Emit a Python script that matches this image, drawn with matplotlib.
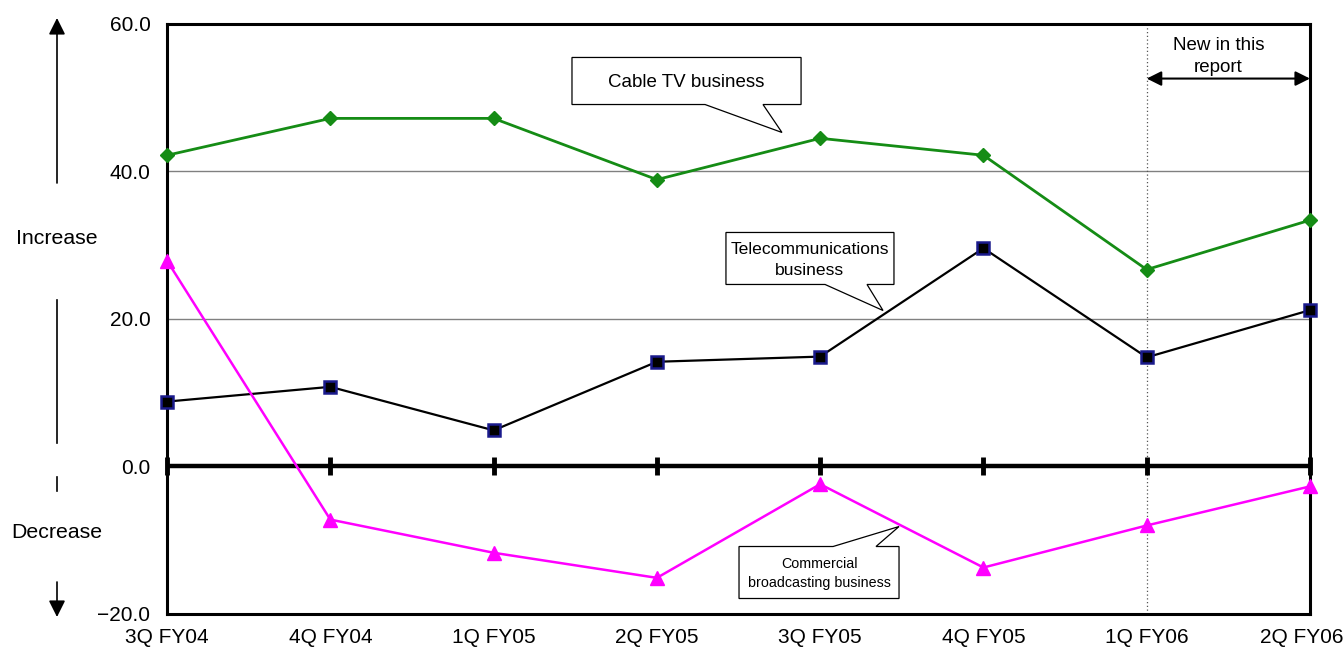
import matplotlib.pyplot as plt
from matplotlib.patches import Polygon
from matplotlib.transforms import ScaledTranslation

plt.rcParams['font.family'] = ['Liberation Sans', 'DejaVu Sans']

# Quarters and year-on-year change for each business
quarters = ['3Q FY04', '4Q FY04', '1Q FY05', '2Q FY05', '3Q FY05', '4Q FY05', '1Q FY06', '2Q FY06']
cable_tv = [42.2, 47.2, 47.2, 38.9, 44.5, 42.2, 26.7, 33.4]
telecom = [8.8, 10.8, 4.9, 14.2, 14.9, 29.6, 14.8, 21.2]
commercial = [27.9, -7.2, -11.7, -15.1, -2.4, -13.7, -8.0, -2.7]
y_ticks = [-20, 0, 20, 40, 60]

x = list(range(len(quarters)))

fig = plt.figure(figsize=(13.44, 6.5), dpi=100)
ax = fig.add_axes([0.1243, 0.0554, 0.8504, 0.9077])

ax.set_xlim(0, len(quarters) - 1)
ax.set_ylim(-20, 60)

# grid lines and heavy zero line
for g in (20, 40):
    ax.axhline(g, color='#808080', lw=1, zorder=1)
ax.axhline(0, color='black', lw=3.2, zorder=2)
ax.plot(x, [0] * len(x), linestyle='none', marker='|', markersize=13,
        mew=3.5, color='black', zorder=2, clip_on=False)

# dotted divider for the newest quarters
ax.axvline(6, color='#555555', lw=0.9, ls=(0, (1, 2)), zorder=1)

ax.plot(x, cable_tv, color='#158C15', lw=2, marker='D', markersize=7,
        zorder=4, clip_on=False)
ax.plot(x, telecom, color='black', lw=1.6, marker='s', markersize=9,
        markerfacecolor='black', markeredgecolor='#1a1a8c', mew=1.8,
        zorder=4, clip_on=False)
ax.plot(x, commercial, color='#FF00FF', lw=1.8, marker='^', markersize=10,
        zorder=4, clip_on=False)

for s in ax.spines.values():
    s.set_linewidth(2.2)
    s.set_color('black')

ax.set_xticks(x)
ax.set_xticklabels(quarters, fontsize=15)
ax.set_yticks(y_ticks)
ax.set_yticklabels(['\u221220.0' if v < 0 else f'{v:.1f}' for v in y_ticks],
                   fontsize=15)
ax.tick_params(axis='y', length=0, pad=12)
ax.tick_params(axis='x', length=0, pad=10)

# keep the last quarter label inside the figure
last = ax.get_xticklabels()[-1]
last.set_transform(last.get_transform() + ScaledTranslation(-8 / 100, 0, fig.dpi_scale_trans))


def callout(pts, text, tx, ty, size):
    ax.add_patch(Polygon(pts, closed=True, facecolor='white', edgecolor='black',
                         lw=0.9, zorder=5))
    ax.text(tx, ty, text, ha='center', va='center', fontsize=size,
            linespacing=1.45, zorder=6)


callout([(2.48, 55.46), (3.883, 55.46), (3.883, 49.08), (3.65, 49.08),
         (3.766, 45.29), (3.295, 49.08), (2.48, 49.08)],
        'Cable TV business', 3.18, 52.0, 13.5)
callout([(3.423, 31.73), (4.452, 31.73), (4.452, 24.68), (4.287, 24.68),
         (4.385, 21.15), (4.03, 24.68), (3.423, 24.68)],
        'Telecommunications\nbusiness', 3.937, 28.0, 12.6)
callout([(3.503, -10.85), (4.079, -10.85), (4.483, -8.14), (4.342, -10.85),
         (4.483, -10.85), (4.483, -17.9), (3.503, -17.9)],
        'Commercial\nbroadcasting business', 3.993, -14.5, 10.3)

# "New in this report" span
ax.annotate('', xy=(6, 52.6), xytext=(7, 52.6),
            arrowprops=dict(arrowstyle='<|-|>', color='black', lw=1.5,
                            mutation_scale=22, shrinkA=0, shrinkB=0))
ax.text(6.44, 55.6, 'New in this\nreport', ha='center', va='center',
        fontsize=13.5, linespacing=1.4)

# increase / decrease indicators at the left
fig.text(57 / 1344, 1 - 238 / 650, 'Increase', ha='center', va='center', fontsize=15.3)
fig.text(57 / 1344, 1 - 533 / 650, 'Decrease', ha='center', va='center', fontsize=15.3)
fig.add_artist(plt.Line2D([57 / 1344] * 2, [1 - 300 / 650, 1 - 443 / 650],
                          color='black', lw=1.2))
fig.add_artist(plt.Line2D([57 / 1344] * 2, [1 - 477 / 650, 1 - 491 / 650],
                          color='black', lw=1.2))
ax.annotate('', xy=(57, 650 - 18), xycoords='figure pixels',
            xytext=(57, 650 - 183), textcoords='figure pixels',
            arrowprops=dict(arrowstyle='-|>', color='black', lw=1.2,
                            mutation_scale=25, shrinkA=0, shrinkB=0))
ax.annotate('', xy=(57, 650 - 617), xycoords='figure pixels',
            xytext=(57, 650 - 582), textcoords='figure pixels',
            arrowprops=dict(arrowstyle='-|>', color='black', lw=1.2,
                            mutation_scale=25, shrinkA=0, shrinkB=0))

fig.savefig('out.png', dpi=100)
